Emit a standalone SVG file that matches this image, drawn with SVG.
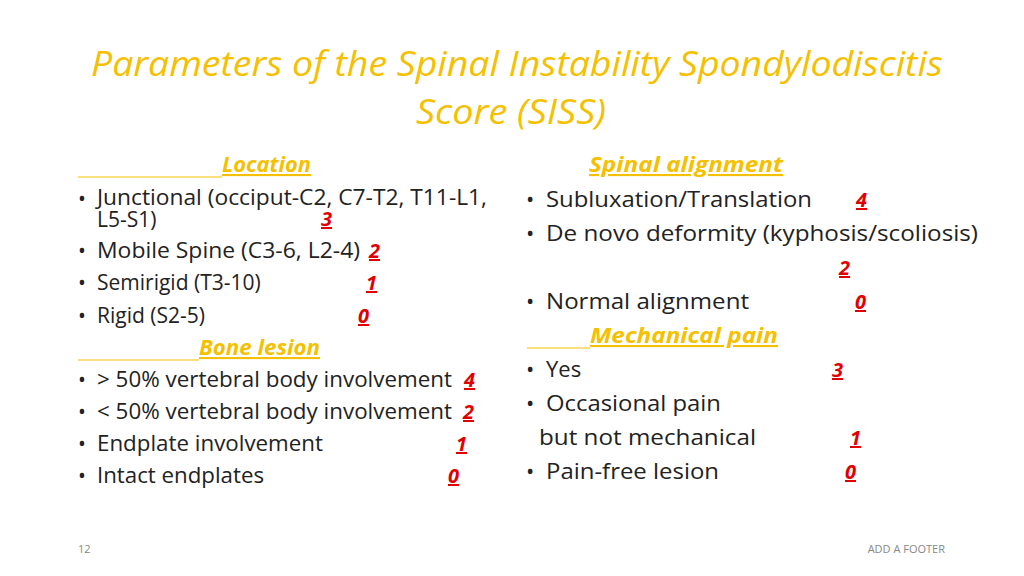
<svg xmlns="http://www.w3.org/2000/svg" width="1024" height="576" viewBox="0 0 1024 576">
<style>
.t{font-family:"Open Sans","Liberation Sans",sans-serif;font-size:21px;fill:#222}
.h{font-family:"Open Sans","Liberation Sans",sans-serif;font-size:21px;font-weight:bold;font-style:italic;fill:#F5C000;text-decoration:underline}
.n{font-family:"Open Sans","Liberation Sans",sans-serif;font-size:20px;font-weight:bold;font-style:italic;fill:#E00000;text-decoration:underline}
.ti{font-family:"Open Sans","Liberation Sans",sans-serif;font-size:34px;font-style:italic;fill:#F5C000;text-anchor:middle}
.f{font-family:"Open Sans","Liberation Sans",sans-serif;font-size:11px;fill:#888}
.u{stroke:#F5C000;stroke-width:1.2}
</style>
<rect width="1024" height="576" fill="#fff"/>
<text class="ti" x="517" y="76" textLength="852" lengthAdjust="spacingAndGlyphs">Parameters of the Spinal Instability Spondylodiscitis</text>
<text class="ti" x="511" y="124" textLength="190" lengthAdjust="spacingAndGlyphs">Score (SISS)</text>
<line class="u" x1="78" y1="177" x2="222" y2="177"/>
<text class="h" x="222" y="172" textLength="89" lengthAdjust="spacingAndGlyphs">Location</text>
<g class="t">
<text x="78" y="206">•</text><text x="97" y="205" textLength="390" lengthAdjust="spacingAndGlyphs">Junctional (occiput-C2, C7-T2, T11-L1,</text>
<text x="97" y="227">L5-S1)</text>
<text x="78" y="258">•</text><text x="97" y="258" textLength="263" lengthAdjust="spacingAndGlyphs">Mobile Spine (C3-6, L2-4)</text>
<text x="78" y="290">•</text><text x="97" y="290">Semirigid (T3-10)</text>
<text x="78" y="323">•</text><text x="97" y="323">Rigid (S2-5)</text>
<text x="78" y="387">•</text><text x="97" y="387" textLength="355" lengthAdjust="spacingAndGlyphs">&gt; 50% vertebral body involvement</text>
<text x="78" y="419">•</text><text x="97" y="419" textLength="355" lengthAdjust="spacingAndGlyphs">&lt; 50% vertebral body involvement</text>
<text x="78" y="451">•</text><text x="97" y="451" textLength="226" lengthAdjust="spacingAndGlyphs">Endplate involvement</text>
<text x="78" y="483">•</text><text x="97" y="483" textLength="167" lengthAdjust="spacingAndGlyphs">Intact endplates</text>
</g>
<line class="u" x1="78" y1="360" x2="199" y2="360"/>
<text class="h" x="199" y="355" textLength="121" lengthAdjust="spacingAndGlyphs">Bone lesion</text>
<g class="n">
<text x="321" y="226">3</text><text x="369" y="258">2</text><text x="366" y="290">1</text><text x="358" y="323">0</text>
<text x="464" y="387">4</text><text x="463" y="419">2</text><text x="456" y="451">1</text><text x="448" y="483">0</text>
<text x="856" y="207">4</text><text x="839" y="275">2</text><text x="855" y="309">0</text>
<text x="832" y="377">3</text><text x="850" y="445">1</text><text x="845" y="479">0</text>
</g>
<text class="h" x="589" y="172" textLength="194" lengthAdjust="spacingAndGlyphs">Spinal alignment</text>
<g class="t" style="font-size:22px">
<text x="526" y="207">•</text><text x="546" y="207" textLength="266" lengthAdjust="spacingAndGlyphs">Subluxation/Translation</text>
<text x="526" y="241">•</text><text x="546" y="241" textLength="432" lengthAdjust="spacingAndGlyphs">De novo deformity (kyphosis/scoliosis)</text>
<text x="526" y="309">•</text><text x="546" y="309" textLength="203" lengthAdjust="spacingAndGlyphs">Normal alignment</text>
<text x="526" y="377">•</text><text x="546" y="377">Yes</text>
<text x="526" y="411">•</text><text x="546" y="411" textLength="175" lengthAdjust="spacingAndGlyphs">Occasional pain</text>
<text x="539" y="445" textLength="217" lengthAdjust="spacingAndGlyphs">but not mechanical</text>
<text x="526" y="479">•</text><text x="546" y="479" textLength="173" lengthAdjust="spacingAndGlyphs">Pain-free lesion</text>
</g>
<line class="u" x1="527" y1="348" x2="590" y2="348"/>
<text class="h" x="590" y="343" textLength="188" lengthAdjust="spacingAndGlyphs">Mechanical pain</text>
<text class="f" x="78" y="553">12</text>
<text class="f" x="945" y="553" text-anchor="end">ADD A FOOTER</text>
</svg>
